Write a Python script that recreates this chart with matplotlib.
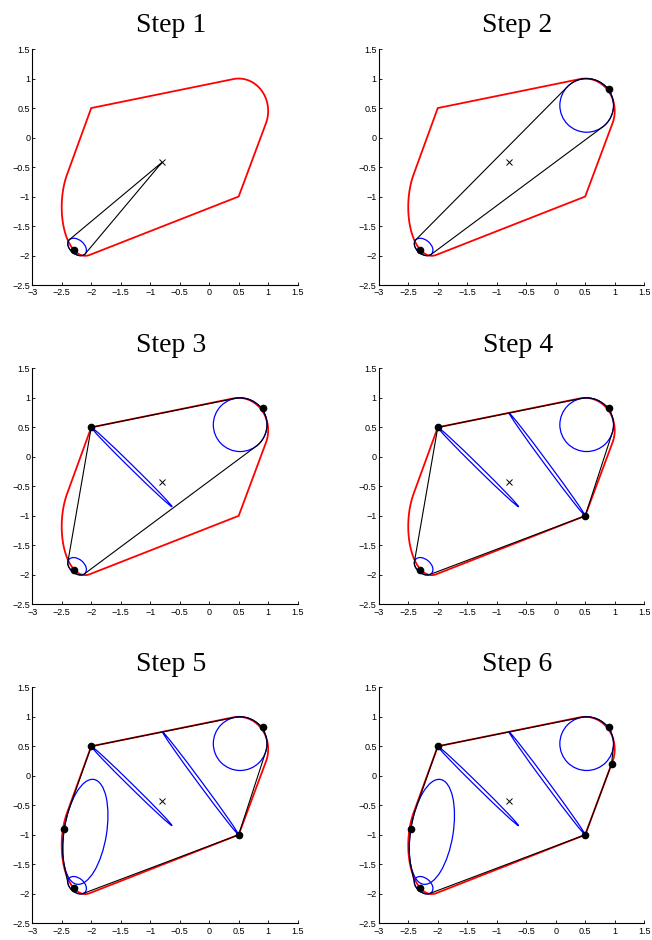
import numpy as np
import matplotlib
matplotlib.use("Agg")
import matplotlib.pyplot as plt
from matplotlib.patches import Ellipse, Polygon
from matplotlib.ticker import FuncFormatter

# the true set (red): convex hull of two corner points and two ellipses
red_px = [-2.0, 0.5]
red_py = [0.5, -1.0]
red_cx = [0.5, -2.08]
red_cy = [0.45, -1.13]
red_a = [0.5, 0.875]
red_b = [0.55, 0.42]
red_ang = [0.0, 88.0]

# blue ellipses found so far (centre, semi axes, angle in degrees)
blue_cx = [-2.24, 0.525, -1.315, -0.145, -2.1]
blue_cy = [-1.855, 0.545, -0.1725, -0.129, -0.95]
blue_a = [0.18, 0.455, 0.96, 1.084, 0.9]
blue_b = [0.12, 0.455, 0.03, 0.03, 0.36]
blue_ang = [-40.0, 0.0, -44.5, -53.5, 80.8]

# black support points
dot_x = [-2.3, 0.91, -2.0, 0.5, -2.46, 0.947]
dot_y = [-1.91, 0.822, 0.5, -1.0, -0.9, 0.2]

# centre point
cross_x = -0.8
cross_y = -0.42

steps = [1, 2, 3, 4, 5, 6]
n_ell = [1, 2, 3, 4, 5, 5]
n_dots = [1, 2, 3, 4, 5, 6]

xticks = np.arange(-3, 1.51, 0.5)
yticks = np.arange(-2.5, 1.51, 0.5)


def ellipse_pts(cx, cy, a, b, ang):
    t = np.linspace(0, 2 * np.pi, 720, endpoint=False)
    th = np.deg2rad(ang)
    x = cx + a * np.cos(t) * np.cos(th) - b * np.sin(t) * np.sin(th)
    y = cy + a * np.cos(t) * np.sin(th) + b * np.sin(t) * np.cos(th)
    return np.column_stack([x, y])


def hull(p):
    p = p[np.lexsort((p[:, 1], p[:, 0]))]

    def half(pts):
        h = []
        for q in pts:
            while len(h) >= 2:
                o, a = h[-2], h[-1]
                if (a[0] - o[0]) * (q[1] - o[1]) - (a[1] - o[1]) * (q[0] - o[0]) <= 0:
                    h.pop()
                else:
                    break
            h.append(q)
        return h

    lower = half(p)
    upper = half(p[::-1])
    return np.array(lower[:-1] + upper[:-1])


# red outline
pts = [np.column_stack([red_px, red_py])]
for i in range(len(red_cx)):
    pts.append(ellipse_pts(red_cx[i], red_cy[i], red_a[i], red_b[i], red_ang[i]))
red_hull = hull(np.vstack(pts))

fmt = FuncFormatter(lambda v, p: ('%g' % v).replace('-', '\u2212'))

fig = plt.figure(figsize=(6.52, 9.40), dpi=100)
lefts = [0.0495, 0.581]
bottoms = [0.6968, 0.3571, 0.0178]

for k, s in enumerate(steps):
    ax = fig.add_axes([lefts[k % 2], bottoms[k // 2], 0.407, 0.251])

    ax.add_patch(Polygon(red_hull, closed=True, fill=False, ec='red', lw=1.3, zorder=1))

    pts = [np.array([[cross_x, cross_y]]),
           np.column_stack([dot_x[:n_dots[k]], dot_y[:n_dots[k]]])]
    for i in range(n_ell[k]):
        e = Ellipse((blue_cx[i], blue_cy[i]), 2 * blue_a[i], 2 * blue_b[i],
                    angle=blue_ang[i], fill=False, ec='blue', lw=0.9, zorder=2)
        ax.add_patch(e)
        pts.append(ellipse_pts(blue_cx[i], blue_cy[i], blue_a[i], blue_b[i], blue_ang[i]))
    h = hull(np.vstack(pts))
    ax.add_patch(Polygon(h, closed=True, fill=False, ec='black', lw=0.8, zorder=3))

    ax.plot(dot_x[:n_dots[k]], dot_y[:n_dots[k]], 'o', color='black', ms=4.5, zorder=4)
    ax.plot(cross_x, cross_y, 'x', color='black', ms=5, mew=0.7, zorder=4)

    ax.set_xlim(-3, 1.5)
    ax.set_ylim(-2.5, 1.5)
    ax.set_xticks(xticks)
    ax.set_yticks(yticks)
    ax.xaxis.set_major_formatter(fmt)
    ax.yaxis.set_major_formatter(fmt)
    ax.spines['top'].set_visible(False)
    ax.spines['right'].set_visible(False)
    ax.spines['left'].set_linewidth(0.8)
    ax.spines['bottom'].set_linewidth(0.8)
    ax.tick_params(direction='in', length=2.5, width=0.6, labelsize=6.5)
    ax.tick_params(axis='x', pad=2.5)
    ax.tick_params(axis='y', pad=1.5)
    for lab in ax.get_xticklabels() + ax.get_yticklabels():
        lab.set_fontfamily('Liberation Sans')
    ax.set_title('Step %d' % s, fontsize=20, family='Liberation Serif', pad=12, x=0.523)

fig.savefig('out.png', dpi=100)
